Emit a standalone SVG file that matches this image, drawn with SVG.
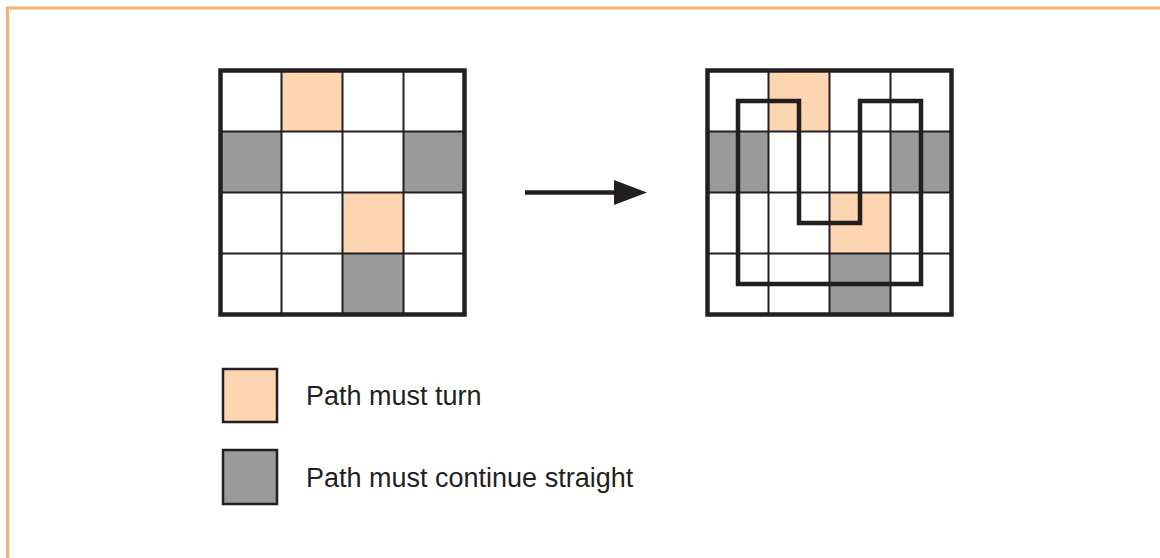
<svg xmlns="http://www.w3.org/2000/svg" width="1160" height="558" viewBox="0 0 1160 558">
<style>
.frame{fill:none;stroke:#f5ae73;stroke-width:3}
.turn{fill:#fdd5b1}
.straight{fill:#9a9a9a}
.cellline{stroke:#231f20;stroke-width:2;fill:none}
.outer{fill:none;stroke:#231f20;stroke-width:4.5}
.path{fill:none;stroke:#231f20;stroke-width:4.5;stroke-linejoin:miter}
.key{stroke:#231f20;stroke-width:2.5}
.label{font-family:"Liberation Sans",Arial,Helvetica,sans-serif;font-size:27px;fill:#231f20}
</style>
<defs>
<marker id="arrowhead" markerWidth="33" markerHeight="25" refX="0" refY="12.5" markerUnits="userSpaceOnUse" orient="auto">
<path d="M0,0 L33,12.5 L0,25 Z" fill="#231f20"/>
</marker>
</defs>
<rect width="1160" height="558" fill="#ffffff"/>
<path class="frame" d="M7.5,558 V8 H1160"/>

<g id="grid-left">
<rect class="turn" x="281.5" y="70.5" width="61" height="61"/>
<rect class="straight" x="220.5" y="131.5" width="61" height="61"/>
<rect class="straight" x="403.5" y="131.5" width="61" height="61"/>
<rect class="turn" x="342.5" y="192.5" width="61" height="61"/>
<rect class="straight" x="342.5" y="253.5" width="61" height="61"/>
<path class="cellline" d="M281.5,70.5 V314.5 M342.5,70.5 V314.5 M403.5,70.5 V314.5 M220.5,131.5 H464.5 M220.5,192.5 H464.5 M220.5,253.5 H464.5"/>
<rect class="outer" x="220.5" y="70.5" width="244" height="244"/>
</g>

<g id="grid-right">
<rect class="turn" x="768.5" y="70.5" width="61" height="61"/>
<rect class="straight" x="707.5" y="131.5" width="61" height="61"/>
<rect class="straight" x="890.5" y="131.5" width="61" height="61"/>
<rect class="turn" x="829.5" y="192.5" width="61" height="61"/>
<rect class="straight" x="829.5" y="253.5" width="61" height="61"/>
<path class="cellline" d="M768.5,70.5 V314.5 M829.5,70.5 V314.5 M890.5,70.5 V314.5 M707.5,131.5 H951.5 M707.5,192.5 H951.5 M707.5,253.5 H951.5"/>
<rect class="outer" x="707.5" y="70.5" width="244" height="244"/>
<path class="path" d="M738,101 H799 V223 H860 V101 H921 V284 H738 Z"/>
</g>

<g id="connectors">
<line x1="525" y1="192.5" x2="614" y2="192.5" stroke="#231f20" stroke-width="4.3" marker-end="url(#arrowhead)"/>
</g>

<g id="legend-turn">
<rect class="turn key" x="223" y="369" width="54" height="53"/>
<text class="label" x="306" y="405">Path must turn</text>
</g>

<g id="legend-straight">
<rect class="straight key" x="223" y="450" width="54" height="54"/>
<text class="label" x="306" y="487">Path must continue straight</text>
</g>
</svg>
